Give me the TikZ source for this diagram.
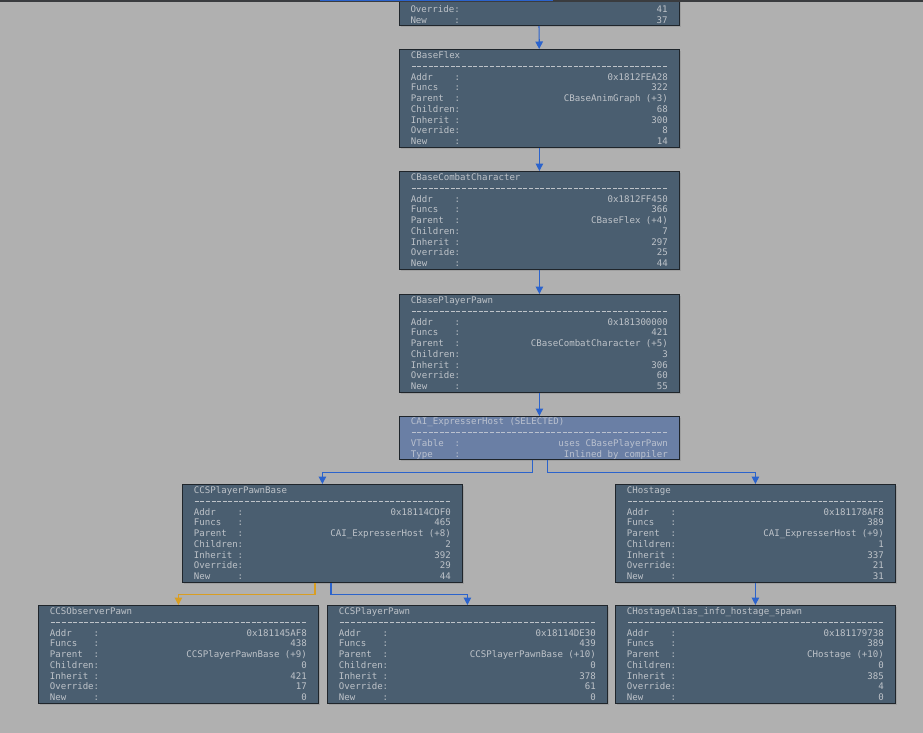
\documentclass[tikz,border=0pt]{standalone}
\usepackage{fontspec}
\usepackage{tikz}
\usetikzlibrary{arrows,arrows.meta,shadows}
\newfontfamily\boxfont{DejaVu Sans Mono}
\definecolor{bggray}{HTML}{B0B0B0}
\definecolor{boxfill}{HTML}{4A5E70}
\definecolor{selfill}{HTML}{6A7FA5}
\definecolor{boxtext}{HTML}{BEC3C9}
\definecolor{seltext}{HTML}{BAC1CF}
\definecolor{boxline}{HTML}{1F252B}
\definecolor{linkblue}{HTML}{2B63CC}
\definecolor{linkorange}{HTML}{D99E22}
\definecolor{topbar}{HTML}{3A3C3F}
\newcommand{\boxtype}{\boxfont\fontsize{9.1}{10.75}\selectfont}
\newcommand{\rowstrut}{\rule[-2pt]{0pt}{8.8pt}}
\newcommand{\ttl}[1]{\par\vspace*{-2.5pt}\hbox to\hsize{\spaceskip 0.602em\relax\rowstrut #1\hfil}}
\newcommand{\dashes}{\par\hbox to\hsize{\rowstrut
  \xleaders\hbox to0.602em{\hss\rule[2.6pt]{4pt}{0.75pt}\hss}\hfill}}
\newcommand{\fld}[2]{\par\hbox to\hsize{\spaceskip 0.602em\relax
  \rowstrut\hbox to4.816em{#1\hfil}:\hfill #2}}
\tikzset{
  cls/.style={draw=boxline, line width=0.8pt, fill=boxfill, text=boxtext,
    text width=257pt, inner xsep=11.5pt, inner ysep=0pt, minimum height=98pt,
    anchor=north west, font=\boxtype,
    drop shadow={shadow xshift=1.5pt, shadow yshift=-1.5pt, opacity=.35}},
  sel/.style={cls, fill=selfill, text=seltext, minimum height=43pt},
  link/.style={draw=linkblue, line width=1.2pt, -{Triangle[width=7.5pt,length=7.5pt]}},
  olink/.style={link, draw=linkorange},
}
\begin{document}
\begin{tikzpicture}[x=1pt, y=-1pt]
  \useasboundingbox (0,0) rectangle (923,733);
  \fill [bggray] (0,0) rectangle (923,733);
  \node [cls, anchor=south, minimum height=0pt] (TOP) at (539,26)
    {\par\vspace*{14pt}\fld{Override}{41}\fld{New}{37}};
  \node [cls] (FLEX) at (399,49) {\ttl{CBaseFlex}\dashes
    \fld{Addr}{0x1812FEA28}\fld{Funcs}{322}\fld{Parent}{CBaseAnimGraph (+3)}
    \fld{Children}{68}\fld{Inherit}{300}\fld{Override}{8}\fld{New}{14}};
  \node [cls] (COMBAT) at (399,171) {\ttl{CBaseCombatCharacter}\dashes
    \fld{Addr}{0x1812FF450}\fld{Funcs}{366}\fld{Parent}{CBaseFlex (+4)}
    \fld{Children}{7}\fld{Inherit}{297}\fld{Override}{25}\fld{New}{44}};
  \node [cls] (PAWN) at (399,294) {\ttl{CBasePlayerPawn}\dashes
    \fld{Addr}{0x181300000}\fld{Funcs}{421}\fld{Parent}{CBaseCombatCharacter (+5)}
    \fld{Children}{3}\fld{Inherit}{306}\fld{Override}{60}\fld{New}{55}};
  \node [sel] (EXPR) at (399,416) {\ttl{CAI\_ExpresserHost (SELECTED)}\dashes
    \fld{VTable}{uses CBasePlayerPawn}\fld{Type}{Inlined by compiler}};
  \node [cls] (PPB) at (182,484) {\ttl{CCSPlayerPawnBase}\dashes
    \fld{Addr}{0x18114CDF0}\fld{Funcs}{465}\fld{Parent}{CAI\_ExpresserHost (+8)}
    \fld{Children}{2}\fld{Inherit}{392}\fld{Override}{29}\fld{New}{44}};
  \node [cls] (HOST) at (615,484) {\ttl{CHostage}\dashes
    \fld{Addr}{0x181178AF8}\fld{Funcs}{389}\fld{Parent}{CAI\_ExpresserHost (+9)}
    \fld{Children}{1}\fld{Inherit}{337}\fld{Override}{21}\fld{New}{31}};
  \node [cls] (OBS) at (38,605) {\ttl{CCSObserverPawn}\dashes
    \fld{Addr}{0x181145AF8}\fld{Funcs}{438}\fld{Parent}{CCSPlayerPawnBase (+9)}
    \fld{Children}{0}\fld{Inherit}{421}\fld{Override}{17}\fld{New}{0}};
  \node [cls] (CSP) at (327,605) {\ttl{CCSPlayerPawn}\dashes
    \fld{Addr}{0x18114DE30}\fld{Funcs}{439}\fld{Parent}{CCSPlayerPawnBase (+10)}
    \fld{Children}{0}\fld{Inherit}{378}\fld{Override}{61}\fld{New}{0}};
  \node [cls] (ALIAS) at (615,605) {\ttl{CHostageAlias\_info\_hostage\_spawn}\dashes
    \fld{Addr}{0x181179738}\fld{Funcs}{389}\fld{Parent}{CHostage (+10)}
    \fld{Children}{0}\fld{Inherit}{385}\fld{Override}{4}\fld{New}{0}};
  \draw [link] (TOP) -- (FLEX);
  \draw [link] (FLEX) -- (COMBAT);
  \draw [link] (COMBAT) -- (PAWN);
  \draw [link] (PAWN) -- (EXPR);
  \draw [link] ([xshift=-7pt]EXPR.south) -- ++(0,12.5) -| (PPB.north);
  \draw [link] ([xshift=8pt]EXPR.south) -- ++(0,12.5) -| (HOST.north);
  \draw [olink] ([xshift=-7.5pt]PPB.south) -- ++(0,11.5) -| (OBS.north);
  \draw [link] ([xshift=8.5pt]PPB.south) -- ++(0,11.5) -| (CSP.north);
  \draw [link] (HOST) -- (ALIAS);
  % window strip at the top
  \fill [topbar] (0,0) rectangle (923,2);
  \fill [linkblue] (320,0) rectangle (553,1.5);
\end{tikzpicture}
\end{document}
